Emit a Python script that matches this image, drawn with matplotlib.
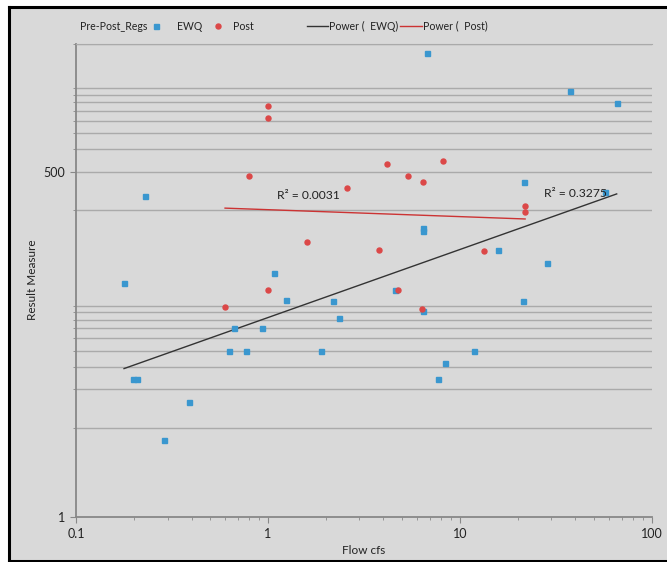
import numpy as np
import matplotlib
matplotlib.use('Agg')
import matplotlib.pyplot as plt
from matplotlib.patches import Rectangle
from matplotlib.lines import Line2D
from matplotlib.ticker import FixedLocator, NullFormatter, FixedFormatter

# ---- data ----
ewq_flow = [6.75, 37.5, 65.7, 21.6, 57.1, 0.230, 6.41, 6.43, 15.8, 28.4,
            0.178, 1.08, 1.24, 2.18, 2.36, 4.60, 6.43, 0.663, 0.932, 0.627,
            0.769, 1.88, 11.9, 8.34, 7.73, 0.197, 0.209, 0.389, 0.287, 21.4]
ewq_result = [4220, 2130, 1720, 413, 345, 323, 181, 172, 122, 97,
              68, 81, 50, 49, 36, 60, 41, 30, 30, 20,
              20, 20, 20, 16, 12, 12, 12, 8, 4, 49]
post_flow = [1.0, 1.0, 0.797, 4.16, 8.20, 5.35, 6.43, 2.58, 21.9, 21.9,
             1.59, 3.79, 13.3, 0.598, 1.0, 4.78, 6.33]
post_result = [1620, 1306, 463, 574, 606, 463, 413, 373, 271, 242,
               141, 122, 119, 44, 60, 60, 42]

ewq_r2_label = "R² = 0.3275"
post_r2_label = "R² = 0.0031"

x_major = [0.1, 1, 10, 100]
x_labels = ["0.1", "1", "10", "100"]
y_major = [1, 500]
y_labels = ["1", "500"]
y_minor = [5, 10, 15, 20, 25, 30, 35, 40, 45, 250, 750, 1000, 1250, 1500,
           1750, 2000, 2250, 5000]

FONT = ['Lato', 'DejaVu Sans']
plt.rcParams['font.family'] = FONT

BLUE = '#3a97cf'
RED = '#dc4848'
BG = '#d9d9d9'
GRID = '#aaaaaa'
TXT = '#222222'

W, H = 667, 562
fig = plt.figure(figsize=(W / 100, H / 100), dpi=100, facecolor='white')

# panel background with black frame on left, top, bottom
fig.patches.append(Rectangle((9 / W, 0), 1.0, (H - 7) / H, transform=fig.transFigure,
                             facecolor=BG, edgecolor='none', zorder=-10))
def fx(p):
    return p / W
def fy(p):
    return 1 - p / H
for xs_, ys_ in [([9, 9], [7, 560.5]), ([9, 700], [7, 7]), ([9, 700], [560.5, 560.5])]:
    fig.add_artist(Line2D([fx(v) for v in xs_], [fy(v) for v in ys_], color='black',
                          lw=2.2, transform=fig.transFigure, solid_capstyle='projecting'))

ax = fig.add_axes([76 / W, (H - 517.3) / H, (651.7 - 76) / W, (517.3 - 43.6) / H])
ax.set_zorder(1)
ax.set_facecolor(BG)
ax.set_xscale('log')
ax.set_yscale('log')
ax.set_xlim(0.1, 100)
ax.set_ylim(1, 5000)

# gridlines
for v in y_major[1:] + y_minor:
    ax.axhline(v, color=GRID, lw=1.0, zorder=1)

# data
ax.plot(ewq_flow, ewq_result, 's', color=BLUE, ms=3.6, mec=BLUE, zorder=3)
ax.plot(post_flow, post_result, 'o', color=RED, ms=3.6, mec=RED, zorder=3)

# power trend lines (least squares in log-log)
def power_fit(x, y):
    lx, ly = np.log10(x), np.log10(y)
    b, la = np.polyfit(lx, ly, 1)
    xs = np.logspace(lx.min(), lx.max(), 50)
    return xs, 10 ** la * xs ** b

xs, ys = power_fit(ewq_flow, ewq_result)
ax.plot(xs, ys, color='#333333', lw=1.0, zorder=2)
xs2, ys2 = power_fit(post_flow, post_result)
ax.plot(xs2, ys2, color='#cc3333', lw=1.0, zorder=2)

ax.text(1.11, 323, post_r2_label, fontsize=8.7, color=TXT, va='center', ha='left', zorder=4)
ax.text(27.5, 335, ewq_r2_label, fontsize=8.7, color=TXT, va='center', ha='left', zorder=4)

# spines
ax.spines['right'].set_visible(False)
ax.spines['top'].set_color(GRID)
for s in ['left', 'bottom']:
    ax.spines[s].set_color('#888888')
    ax.spines[s].set_linewidth(1.3)

ax.xaxis.set_major_locator(FixedLocator(x_major))
ax.xaxis.set_major_formatter(FixedFormatter(x_labels))
ax.xaxis.set_minor_formatter(NullFormatter())
ax.yaxis.set_major_locator(FixedLocator(y_major))
ax.yaxis.set_major_formatter(FixedFormatter(y_labels))
ax.yaxis.set_minor_locator(FixedLocator(y_minor))
ax.yaxis.set_minor_formatter(NullFormatter())
ax.tick_params(which='major', length=4, color='#888888', labelsize=9, labelcolor=TXT)
ax.tick_params(which='minor', length=2.5, color='#888888')

ax.set_xlabel('Flow cfs', fontsize=8.5, color=TXT)
ax.set_ylabel('Result Measure', fontsize=8.5, color=TXT)
ax.xaxis.set_label_coords((364 - 76) / 575.7, (517.3 - 551) / 473.7)
ax.yaxis.set_label_coords((32 - 76) / 575.7, (517.3 - 280) / 473.7)
ax.xaxis.label.set_va('center')
ax.yaxis.label.set_va('center')

# legend row (figure coordinates)
ly = 1 - 26 / H
fs = 7.6
fig.text(80 / W, ly, 'Pre-Post_Regs', fontsize=fs, va='center', ha='left', color=TXT)
fig.add_artist(Line2D([156 / W], [ly], marker='s', color=BLUE, ms=3.6, ls='none', transform=fig.transFigure))
fig.text(177 / W, ly, 'EWQ', fontsize=fs, va='center', ha='left', color=TXT)
fig.add_artist(Line2D([218 / W], [ly], marker='o', color=RED, ms=3.6, ls='none', transform=fig.transFigure))
fig.text(233 / W, ly, 'Post', fontsize=fs, va='center', ha='left', color=TXT)
fig.add_artist(Line2D([307 / W, 328 / W], [ly, ly], color='#333333', lw=1.0, transform=fig.transFigure))
fig.text(329 / W, ly, 'Power (  EWQ)', fontsize=fs, va='center', ha='left', color=TXT)
fig.add_artist(Line2D([400 / W, 422 / W], [ly, ly], color='#cc3333', lw=1.0, transform=fig.transFigure))
fig.text(423 / W, ly, 'Power (  Post)', fontsize=fs, va='center', ha='left', color=TXT)

fig.savefig('out.png', dpi=100, facecolor='white')
